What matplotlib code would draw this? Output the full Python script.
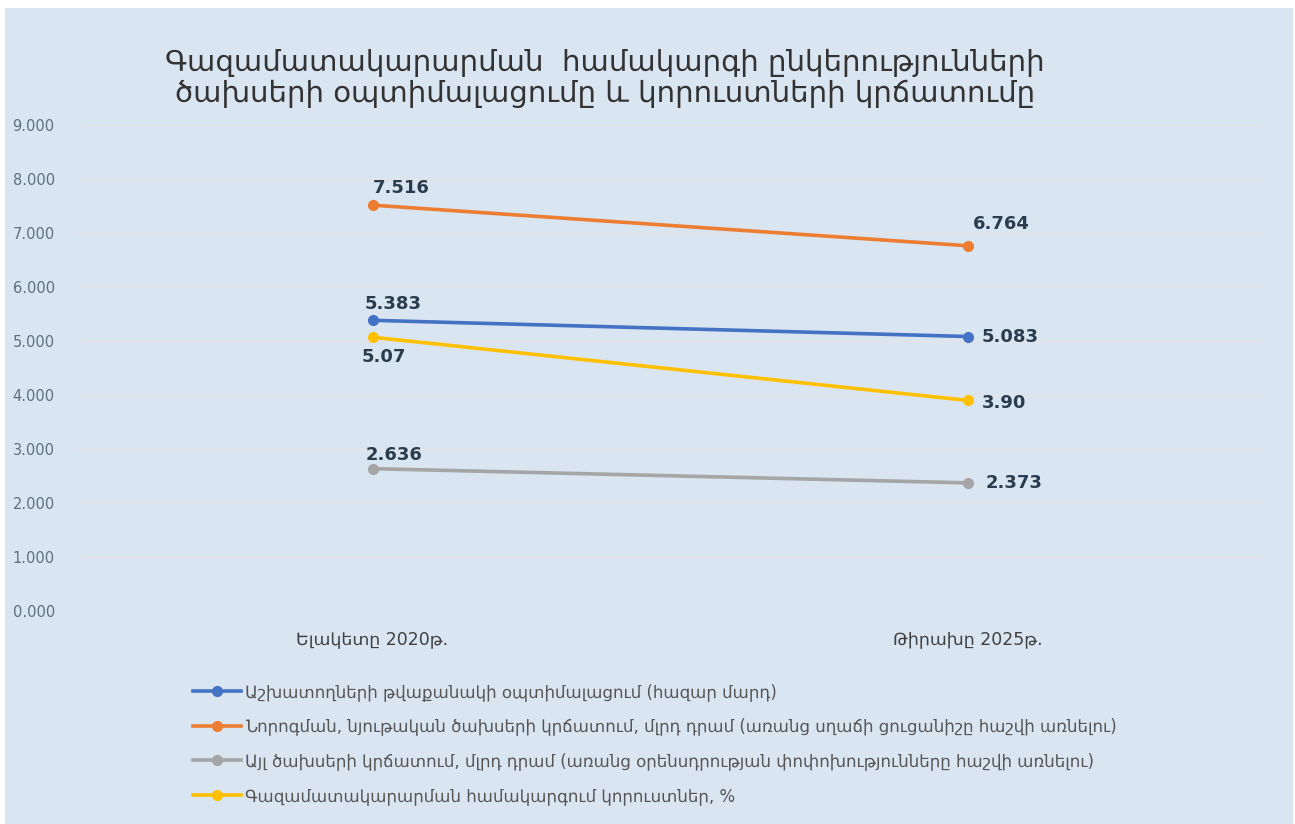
import matplotlib.pyplot as plt
from matplotlib.patches import Rectangle

# categories and series
categories = ['Ելակետը 2020թ.', 'Թիրախը 2025թ.']
workers = [5.383, 5.083]
repair = [7.516, 6.764]
other = [2.636, 2.373]
losses = [5.07, 3.90]

workers_labels = ['5.383', '5.083']
repair_labels = ['7.516', '6.764']
other_labels = ['2.636', '2.373']
losses_labels = ['5.07', '3.90']

legend_names = [
    'Աշխատողների թվաքանակի օպտիմալացում (հազար մարդ)',
    'Նորոգման, նյութական ծախսերի կրճատում, մլրդ դրամ (առանց սղաճի ցուցանիշը հաշվի առնելու)',
    'Այլ ծախսերի կրճատում, մլրդ դրամ (առանց օրենսդրության փոփոխությունները հաշվի առնելու)',
    'Գազամատակարարման համակարգում կորուստներ, %',
]
yticks = [0, 1, 2, 3, 4, 5, 6, 7, 8, 9]

bg = '#dae5f2'
label_color = '#2a3d4e'

fig = plt.figure(figsize=(12.95, 8.24), dpi=100)
fig.patch.set_facecolor('white')
fig.patches.append(Rectangle((5 / 1295, 0), 1288 / 1295, 816 / 824,
                             transform=fig.transFigure, facecolor=bg,
                             edgecolor='none', zorder=-10))

ax = fig.add_axes([75 / 1295, 1 - 611 / 824, 1190 / 1295, 486 / 824])
ax.set_facecolor('none')
x = list(range(len(categories)))

series = [
    (workers, workers_labels, '#4472c4', legend_names[0]),
    (repair, repair_labels, '#ed7d31', legend_names[1]),
    (other, other_labels, '#a5a5a5', legend_names[2]),
    (losses, losses_labels, '#ffc000', legend_names[3]),
]
handles = []
for vals, labs, col, name in series:
    h, = ax.plot(x, vals, color=col, lw=2.6, marker='o', markersize=7, label=name)
    handles.append(h)

# data labels (offsets in points)
offsets = {
    'workers': [(-6, 12), (10, 0)],
    'repair': [(0, 12), (4, 16)],
    'other': [(-5, 10), (13, 0)],
    'losses': [(-8, -14), (10, -2)],
}
for key, (vals, labs, col, name) in zip(['workers', 'repair', 'other', 'losses'], series):
    for i, (v, lab) in enumerate(zip(vals, labs)):
        dx, dy = offsets[key][i]
        ax.annotate(lab, (x[i], v), xytext=(dx, dy), textcoords='offset points',
                    ha='left', va='center', fontsize=13, fontweight='bold', color=label_color)

ax.set_xlim(-0.5, 1.5)
ax.set_ylim(0, 9)
ax.set_yticks(yticks)
ax.set_yticklabels([f'{t}.000' for t in yticks], fontsize=10.5, color='#5f6f80')
ax.set_xticks(x)
ax.set_xticklabels(categories, fontsize=12.5, color='#404040')
ax.tick_params(length=0)
ax.tick_params(axis='y', pad=45)
ax.tick_params(axis='x', pad=14)
for lbl in ax.get_yticklabels():
    lbl.set_horizontalalignment('left')
ax.grid(axis='y', color='#e6e3e4', lw=1)
ax.set_axisbelow(True)
for s in ax.spines.values():
    s.set_visible(False)

fig.text(0.467, 0.905, 'Գազամատակարարման  համակարգի ընկերությունների\nծախսերի օպտիմալացումը և կորուստների կրճատումը',
         ha='center', va='center', fontsize=21, color='#333333', linespacing=1.15)

fig.legend(handles=handles, loc='upper left', bbox_to_anchor=(178 / 1295, 1 - 668 / 824),
           frameon=False, fontsize=12, labelcolor='#555555', handlelength=2.9,
           labelspacing=1.0, handletextpad=0.2)

fig.savefig('out.png', dpi=100, facecolor=fig.get_facecolor())
